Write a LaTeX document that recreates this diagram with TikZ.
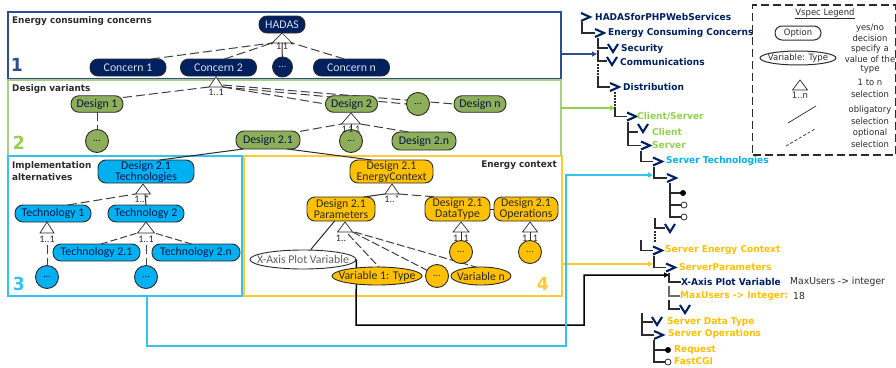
\documentclass[tikz,border=0pt]{standalone}
\usepackage{fontspec}
\setmainfont{Carlito}
\newfontfamily\vbf{DejaVu Sans}[FakeStretch=0.96]
\usetikzlibrary{shapes.geometric,arrows.meta,calc}
\pgfdeclarelayer{under}
\pgfsetlayers{under,main}
\definecolor{navy}{HTML}{002060}
\definecolor{navyb}{HTML}{2F4D8F}
\definecolor{dgreen}{HTML}{8FAE5A}
\definecolor{lgreen}{HTML}{92D050}
\definecolor{boxgreen}{HTML}{A9CF85}
\definecolor{cyanf}{HTML}{00B0F0}
\definecolor{cyanb}{HTML}{38C0F0}
\definecolor{yell}{HTML}{FFC000}
\definecolor{yellb}{HTML}{FFCB33}
\definecolor{ink}{HTML}{2B2B2B}
\tikzset{
 x=1pt,y=-1pt,
 frame/.style={draw,line width=1.4pt,inner sep=0,outer sep=0,anchor=north west},
 vn/.style={draw=#1,line width=.9pt,inner sep=0,outer sep=0,align=center,font=\fontsize{11.8}{11}\selectfont},
 dots/.style={font=\fontsize{10}{10}\selectfont},
 navyn/.style={vn=ink,fill=navy,text=white!85!navy,rounded corners=8pt},
 navyo/.style={vn=ink,fill=navy,text=white!85!navy,circle,minimum size=#1,dots},
 greenn/.style={vn=ink,fill=dgreen,text=navy!70!black,rounded corners=8pt},
 greeno/.style={vn=ink,fill=dgreen,text=navy!70!black,circle,minimum size=23pt,dots},
 bluen/.style={vn=ink,fill=cyanf,text=navy!80!black,rounded corners=8pt},
 blueo/.style={vn=ink,fill=cyanf,text=navy!80!black,circle,minimum size=23pt,dots},
 yeln/.style={vn=ink,fill=yell,text=ink,rounded corners=8pt},
 yelo/.style={vn=ink,fill=yell,text=ink,circle,minimum size=23pt,dots},
 yele/.style={vn=ink,fill=yell,ellipse},
 elab/.style={font=\fontsize{11.8}{12}\selectfont,text=ink,inner sep=0},
 tri/.style={draw=ink,line width=.7pt,fill=white},
 card/.style={font=\fontsize{10}{10}\selectfont,text=ink,inner sep=0},
 opt/.style={draw=ink!90,line width=1pt,dash pattern=on 9pt off 4pt},
 obl/.style={draw=ink,line width=1pt},
 head/.style={font=\vbf\bfseries\fontsize{9.2}{11.5}\selectfont,text=ink,anchor=west,inner sep=0,align=left},
 big/.style={font=\vbf\bfseries\fontsize{18}{18}\selectfont,inner sep=0},
 link/.style={line width=1.2pt,-{Triangle[length=5pt,width=5pt]}},
 tree/.style={draw=ink,line width=1.2pt},
 treedot/.style={draw=ink,line width=1.5pt,dash pattern=on 1.5pt off 1.5pt},
 chev/.style={draw=navy,line width=2.1pt,miter limit=10},
 tl/.style={font=\vbf\bfseries\fontsize{9.4}{10}\selectfont,anchor=west,inner sep=0},
 tlr/.style={font=\vbf\fontsize{9.6}{10}\selectfont,text=ink,anchor=west,inner sep=0},
 lg/.style={font=\vbf\fontsize{8.8}{10}\selectfont,text=ink,inner sep=0},
}
% triangle: name, apex x, apex y, half width, height
\newcommand{\vtri}[5]{%
 \coordinate (#1) at (#2,#3);
 \coordinate (#1L) at (#2-#4,#3+#5);
 \coordinate (#1R) at (#2+#4,#3+#5);
 \coordinate (#1B) at (#2,#3+#5);
 \draw[tri] (#1) -- (#1L) -- (#1R) -- cycle;}
% chevron: name, left x, y, stem x
\newcommand{\rchev}[4]{%
 \coordinate (#1) at (#2,#3);
 \coordinate (#1S) at (#4,#3+5);
 \draw[chev] (#2,#3-4) -- (#2+9,#3) -- (#2,#3+4);}
\newcommand{\vchev}[3]{%
 \coordinate (#1) at (#2,#3);
 \draw[chev] (#2,#3-4) -- (#2+5,#3+4) -- (#2+10,#3-4);}
\begin{document}
\begin{tikzpicture}
\useasboundingbox (0,0) rectangle (896,367);
\begin{pgfonlayer}{under}
\fill[white] (0,0) rectangle (896,367);
\end{pgfonlayer}
% frames
\node[frame,draw=navyb,minimum width=553pt,minimum height=67pt] (box1) at (8,12) {};
\node[frame,draw=boxgreen,minimum width=553pt,minimum height=76pt] (box2) at (8,80) {};
\node[frame,draw=yellb,minimum width=318pt,minimum height=140pt] (box4) at (244,156) {};
\node[frame,draw=cyanb,minimum width=234pt,minimum height=140pt] (box3) at (8,156) {};
\node[head] at (12,21) (h1) {Energy consuming concerns};
\node[head] at (12,89) (h2) {Design variants};
\node[head] at (12,171) (h3) {Implementation\\alternatives};
\node[head,anchor=east] at (557,165) (h4) {Energy context};
\node[big,text=navyb] at (17,65) (n1) {1};
\node[big,text=lgreen] at (19,143) (n2) {2};
\node[big,text=cyanb] at (19,284) (n3) {3};
\node[big,text=yellb] at (543,284) (n4) {4};
% concerns
\node[navyn,minimum width=46pt,minimum height=17pt] (hadas) at (282,24.5) {HADAS};
\node[navyn,minimum width=76pt,minimum height=17pt] (c1) at (128,67.5) {Concern 1};
\node[navyn,minimum width=76pt,minimum height=17pt] (c2) at (218.5,67.5) {Concern 2};
\node[navyo=20pt] (c3) at (282.5,67) {...};
\node[navyn,minimum width=76pt,minimum height=17pt] (cn) at (351.5,67.5) {Concern n};
\vtri{ta}{282}{33}{10}{10}
\draw[opt] (c1.20) -- (taL);
\draw[opt] (c2.55) -- (taL);
\draw[obl] (taB) -- (c3);
\draw[opt] (cn.130) -- (taR);
\node[card] at (282,46) (ca) {*\,1\,1\,*};
% designs
\node[greenn,minimum width=52pt,minimum height=16.5pt] (d1) at (97,104) {Design 1};
\node[greeno] (d1o) at (97,141) {...};
\node[greenn,minimum width=52pt,minimum height=16.5pt] (d2) at (351.5,104) {Design 2};
\node[greeno] (d3) at (418,104) {...};
\node[greenn,minimum width=52pt,minimum height=16.5pt] (dn) at (480,104) {Design n};
\node[greenn,minimum width=64pt,minimum height=18pt] (d21) at (268,140) {Design 2.1};
\node[greeno] (d22) at (351,141) {...};
\node[greenn,minimum width=64pt,minimum height=18pt] (d2n) at (424,141) {Design 2.n};
\vtri{tb}{216}{77}{7}{10}
\draw[opt] (d1.14) -- (tbL);
\begin{pgfonlayer}{under}
\draw[opt] (tbR) -- (d2.west);
\draw[opt] (tbR) -- (d3.west);
\draw[opt] ($(tbR)+(0,-2)$) -- (dn.west);
\end{pgfonlayer}
\node[card] at (216,92.5) (cb) {1..1};
\draw[opt] (d1) -- (d1o);
\vtri{tc}{351}{113}{9.5}{11}
\draw[opt] (d21.15) -- (tcL);
\draw[obl] (tcB) -- (d22);
\draw[opt] (d2n.150) -- (tcR);
\node[card] at (351,129) (cc) {1\,1\,1};
% technologies
\node[bluen,minimum width=96pt,minimum height=23pt] (t0) at (146,171.5) {Design 2.1\\Technologies};
\draw[obl] (d21.-160) -- (t0.40);
\vtri{td}{143}{184}{7.5}{10}
\node[bluen,minimum width=76pt,minimum height=17pt] (t1) at (53,213.5) {Technology 1};
\node[bluen,minimum width=76pt,minimum height=17pt] (t2) at (146,213.5) {Technology 2};
\draw[opt] (t1.30) -- (tdL);
\draw[obl] (145,194) -- (t2.north);
\node[card] at (142,199) (cd) {1..*};
\vtri{te}{47}{222}{7}{11}
\node[card] at (47,239) (ce) {1..1};
\node[blueo] (t1o) at (47,277) {...};
\draw[opt] ($(teB)+(0,12)$) -- (t1o);
\vtri{tf}{146}{222}{8.5}{11}
\node[bluen,minimum width=87pt,minimum height=17pt] (t21) at (96.5,252.5) {Technology 2.1};
\node[bluen,minimum width=88pt,minimum height=17pt] (t2n) at (196,252.5) {Technology 2.n};
\node[blueo] (t2o) at (146,277) {...};
\draw[opt,dash pattern=on 7pt off 3pt] (t21.62) -- (tfL);
\draw[opt,dash pattern=on 7pt off 3pt] (t2n.118) -- (tfR);
\draw[opt] ($(tfB)+(0,12)$) -- (t2o);
\node[card] at (146,239) (cf) {1..1};
% energy context
\node[yeln,minimum width=83pt,minimum height=23pt] (e0) at (391.5,171.5) {Design 2.1\\EnergyContext};
\draw[obl] (d21.-25) -- (e0.150);
\vtri{tg}{392}{184}{7}{10}
\node[yeln,minimum width=68pt,minimum height=24pt] (e1) at (341,209) {Design 2.1\\Parameters};
\node[yeln,minimum width=65pt,minimum height=24pt] (e2) at (457.5,209) {Design 2.1\\DataType};
\node[yeln,minimum width=64pt,minimum height=24pt] (e3) at (526,209) {Design 2.1\\Operations};
\draw[obl] (e1.28) -- (tgL);
\draw[opt] (tgR) -- (e2.150);
\draw[obl] (e2.east) -- (e3.west);
\node[card] at (392,199) (cg) {1..*};
\vtri{th}{345}{222}{7.5}{10}
\node[card] at (341,238) (ch) {1..};
\node[draw=ink,line width=.9pt,fill=white,ellipse,minimum width=106pt,minimum height=19pt,inner sep=0,label={[elab,text=ink!75]center:X-Axis Plot Variable}] (xv) at (303,259.5) {};
\draw[obl] (e1.-118) -- (xv.52);
% connectors to the tree
\coordinate (navyin) at (597,54);
\coordinate (greenin) at (615,108);
\coordinate (bluein) at (653,175);
\coordinate (yelin) at (653,264);
\coordinate (blackin) at (669,275);
\coordinate (bk1) at (356,325);
\coordinate (bk2) at (584,325);
\coordinate (bl1) at (147,346);
\coordinate (bl2) at (566,346);
\draw[link,draw=navyb] (box1.east |- navyin) -- (navyin);
\draw[link,draw=lgreen] (box2.east |- greenin) -- (greenin);
\draw[link,draw=yellb] (box4.east |- yelin) -- (yelin);
\draw[link,draw=black,line width=1.5pt] (xv.east) -- (bk1) -- (bk2) |- (blackin);
\draw[link,draw=cyanb] (box3.south -| bl1) -- (bl1) -- (bl2) |- (bluein);
\node[draw=ink,line width=.9pt,yele,minimum width=90pt,minimum height=18pt,inner sep=0,label={[elab]center:Variable 1: Type}] (v1) at (377,276) {};
\node[yelo] (v2) at (437,276) {...};
\node[draw=ink,line width=.9pt,yele,minimum width=60pt,minimum height=18pt,inner sep=0,label={[elab]center:Variable n}] (vn) at (481,276) {};
\draw[opt,dash pattern=on 8pt off 3pt] (348,234) -- (v1.78);
\draw[opt,dash pattern=on 8pt off 3pt] (thR) -- (v2.150);
\draw[opt,dash pattern=on 8pt off 3pt] ($(thR)+(2,0)$) -- (vn.118);
\vtri{ti}{461}{222}{8}{10}
\node[yelo] (e2o) at (461,252) {...};
\draw[obl] (tiB) -- (e2o);
\node[card] at (461,238) (ci) {1\,\phantom{.}\,1};
\vtri{tj}{530}{222}{7.5}{10}
\node[yelo] (e3o) at (530,252) {...};
\draw[obl] (tjB) -- (e3o);
\node[card] at (530,238) (cj) {1\,\phantom{.}\,1};
% tree
\rchev{r0}{581}{17}{582}
\node[tl,text=navy] at (595,17) (l0) {HADASforPHPWebServices};
\rchev{r1}{595}{33}{598}
\node[tl,text=navy] at (608,33) (l1) {Energy Consuming Concerns};
\draw[tree] (r0S) |- (r1);
\vchev{r2}{608}{48}
\node[tl,text=navy] at (621,49) (l2) {Security};
\draw[tree] (r1S) |- (r2);
\vchev{r3}{607}{61}
\node[tl,text=navy] at (620,62) (l3) {Communications};
\coordinate (s3a) at (598,50);
\draw[tree] (s3a) |- (r3);
\coordinate (s4a) at (598,64);
\coordinate (s4b) at (598,78);
\draw[treedot] (s4a) -- (s4b);
\rchev{r4}{610}{87}{615}
\node[tl,text=navy] at (623,87) (l4) {Distribution};
\draw[tree] (s4b) |- (r4);
\coordinate (s5b) at (615,108);
\draw[treedot] (r4S) -- (s5b);
\rchev{r5}{627}{116.5}{628}
\node[tl,text=lgreen] at (637,116) (l5) {Client/Server};
\draw[tree] (s5b) |- (r5);
\vchev{r6}{638}{128}
\node[tl,text=lgreen] at (652,132) (l6) {Client};
\draw[tree] (r5S) |- (638,132);
\rchev{r7}{641}{145.5}{641}
\node[tl,text=lgreen] at (652,145) (l7) {Server};
\coordinate (s7a) at (628,132);
\draw[tree] (s7a) |- (r7);
\rchev{r8}{653}{161.5}{654}
\node[tl,text=cyanf] at (666,161) (l8) {Server Technologies};
\draw[tree] (r7S) |- (r8);
\rchev{r9}{667}{178}{670}
\draw[tree] (r8S) |- (r9);
\coordinate (b1) at (683,193);
\coordinate (b2) at (684,205);
\coordinate (b3) at (684,217);
\draw[tree] (r9S) |- (b3);
\draw[tree] (670,193) -- (b1);
\draw[tree] (670,205) -- (b2);
\fill[black] (b1) circle (3);
\draw[ink,line width=.8pt,fill=white] (b2) circle (3);
\draw[ink,line width=.8pt,fill=white] (b3) circle (3);
\vchev{r10}{665}{228}
\coordinate (s10a) at (655,218);
\draw[tree] (s10a) |- (r10);
\coordinate (s10b) at (655,231);
\coordinate (s10c) at (655,242);
\draw[treedot] (s10b) -- (s10c);
\rchev{r11}{653}{250.5}{654}
\node[tl,text=yell] at (665,250) (l11) {Server Energy Context};
\coordinate (s11) at (641,240);
\draw[tree] (s11) |- (r11);
\rchev{r12}{666}{267.5}{669}
\node[tl,text=yell] at (679,267) (l12) {ServerParameters};
\draw[tree] (r11S) |- (r12);
\node[tl,text=navy] at (681,282) (l13) {X-Axis Plot Variable};
\node[tlr] at (790,282) (l13b) {MaxUsers -> integer};
\draw[tree] (r12S) |- (l13.west);
\node[tl,text=yell] at (680,296) (l14) {MaxUsers -> Integer:};
\node[tlr] at (793,296) (l14b) {18};
\coordinate (s14) at (669,286);
\draw[tree,draw=ink!70] (s14) |- (l14.west);
\vchev{r15}{680}{309}
\coordinate (s15) at (669,300);
\draw[tree] (s15) |- (680,309);
\vchev{r16}{652}{321}
\node[tl,text=yell] at (667,322) (l16) {Server Data Type};
\coordinate (s16) at (642,313);
\draw[tree] (s16) |- (653,322);
\rchev{r17}{654}{335}{654}
\node[tl,text=yell] at (668,334) (l17) {Server Operations};
\coordinate (s17) at (642,322);
\draw[tree] (s17) |- (r17);
\coordinate (b4) at (668,350);
\coordinate (b5) at (668,362);
\draw[tree] (r17S) |- (b5);
\draw[tree] (654,350) -- (b4);
\fill[black] (b4) circle (3);
\draw[ink,line width=.8pt,fill=white] (b5) circle (3);
\node[tl,text=yell] at (674,350) (l18) {Request};
\node[tl,text=yell] at (674,361.5) (l19) {FastCGI};
% legend
\node[frame,draw=ink,line width=1.1pt,dash pattern=on 8pt off 4pt,minimum width=143pt,minimum height=150pt] (leg) at (752.5,5) {};
\node[lg] at (825,14) (lt) {\underline{Vspec Legend}};
\node[draw=ink,line width=1pt,rounded corners=7pt,minimum width=46pt,minimum height=14pt,inner sep=0,font=\vbf\fontsize{8.8}{10}\selectfont,text=ink] (lo) at (798,33) {Option};
\node[draw=ink,line width=1pt,ellipse,minimum width=76pt,minimum height=14pt,inner sep=0,label={[lg]center:Variable: Type}] (lv) at (798,58) {};
\vtri{tl}{800}{80}{7.5}{10}
\node[lg] at (800,95) (ln) {1..n};
\coordinate (la) at (788,123);
\coordinate (lb) at (816,106);
\coordinate (lc) at (786,146);
\coordinate (ld) at (815,129);
\draw[ink,line width=.7pt] (la) -- (lb);
\draw[ink,line width=.7pt,dash pattern=on 3pt off 2pt] (lc) -- (ld);
\foreach \nm/\ty/\tx in {a/28/yes\slash no,b/38/decision,c/49/specify a,d/59/value of the,e/69/type,f/82/1 to n,g/94/selection,h/110/obligatory,i/121/selection,j/133/optional,k/144/selection}{
 \node[lg] (lr\nm) at (870,\ty) {\tx};
}
\end{tikzpicture}
\end{document}
